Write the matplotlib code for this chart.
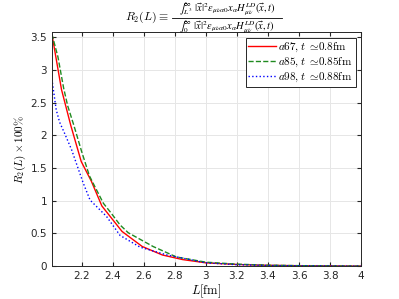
import matplotlib

matplotlib.use("Agg")
import matplotlib.pyplot as plt
from matplotlib.lines import Line2D

plt.rcParams.update({"font.family": "DejaVu Sans", "mathtext.fontset": "cm", "font.size": 8})

L_a67 = [2.008, 2.07, 2.13, 2.197, 2.262, 2.33, 2.39, 2.46, 2.59, 2.72, 2.85, 3.0, 3.2, 3.4, 3.6, 3.8, 4.0]
R_a67 = [3.55, 2.70, 2.15, 1.60, 1.30, 0.92, 0.74, 0.53, 0.30, 0.17, 0.10, 0.05, 0.025, 0.012, 0.006, 0.003, 0.0]

L_a85 = [2.008, 2.047, 2.084, 2.11, 2.15, 2.2, 2.25, 2.286, 2.34, 2.39, 2.447, 2.5, 2.66, 2.81, 3.0, 3.2, 3.4, 3.6, 3.8, 4.0]
R_a85 = [3.55, 3.20, 2.72, 2.45, 2.15, 1.75, 1.38, 1.21, 0.96, 0.81, 0.63, 0.51, 0.30, 0.14, 0.06, 0.03, 0.014, 0.007, 0.003, 0.0]

L_a98 = [2.008, 2.036, 2.058, 2.09, 2.135, 2.21, 2.254, 2.36, 2.447, 2.576, 2.75, 3.0, 3.2, 3.4, 3.6, 3.8, 4.0]
R_a98 = [2.86, 2.39, 2.20, 2.03, 1.78, 1.27, 1.01, 0.76, 0.47, 0.29, 0.17, 0.05, 0.022, 0.01, 0.005, 0.002, 0.0]

fig = plt.figure(figsize=(3.99, 2.99), dpi=100)
ax = fig.add_axes([0.130, 0.110, 0.775, 0.783])
ax.plot(L_a67, R_a67, "-", color="red", lw=1.0, label=r"$a67, t\ \simeq\!0.8\mathrm{fm}$")
ax.plot(L_a85, R_a85, "--", color="#1f8a1f", lw=1.0, label=r"$a85, t\ \simeq\!0.85\mathrm{fm}$")
ax.plot(L_a98, R_a98, ":", color="blue", lw=1.0, label=r"$a98, t\ \simeq\!0.88\mathrm{fm}$")

ax.set_xlim(2.008, 4)
ax.set_ylim(0, 3.58)
ax.set_xticks([2.2, 2.4, 2.6, 2.8, 3, 3.2, 3.4, 3.6, 3.8, 4])
ax.set_xticklabels(["2.2", "2.4", "2.6", "2.8", "3", "3.2", "3.4", "3.6", "3.8", "4"])
ax.set_yticks([0, 0.5, 1, 1.5, 2, 2.5, 3, 3.5])
ax.set_yticklabels(["0", "0.5", "1", "1.5", "2", "2.5", "3", "3.5"])
ax.grid(True, color="#e6e6e6", lw=0.7)
ax.set_axisbelow(True)
ax.tick_params(direction="in", length=3, colors="#262626", labelsize=7.5, top=True, right=True)
for s in ax.spines.values():
    s.set_color("#262626")
    s.set_linewidth(0.7)

ax.set_xlabel(r"$L[\mathrm{fm}]$", fontsize=9, labelpad=1)
ax.set_ylabel(r"$R_2(L)\times 100\%$", fontsize=8, labelpad=2)

# title as a hand-built fraction (mathtext \frac shrinks it too much)
W, H = 399, 299
num = r"$\int{}_{L^3}^{\infty}\ |\vec{x}|^2\epsilon_{\mu\nu\alpha 0}x_\alpha H^{LD}_{\mu\nu}(\vec{x},t)$"
den = r"$\int{}_0^{\infty}\ |\vec{x}|^2\epsilon_{\mu\nu\alpha 0}x_\alpha H^{LD}_{\mu\nu}(\vec{x},t)$"
fig.text(169 / W, 1 - 17.5 / H, r"$R_2(L)\equiv$", ha="right", va="center", fontsize=8.5)
fig.text(227 / W, 1 - 17 / H, num, ha="center", va="bottom", fontsize=7.5, math_fontfamily="stix")
fig.text(227 / W, 1 - 18.5 / H, den, ha="center", va="top", fontsize=7.5, math_fontfamily="stix")
fig.add_artist(Line2D([172 / W, 282 / W], [1 - 17.5 / H, 1 - 17.5 / H], color="black", lw=0.6))

leg = ax.legend(loc="upper right", fontsize=8, frameon=True, fancybox=False,
                borderpad=0.25, labelspacing=0.15, handlelength=2.5, handletextpad=0.2,
                borderaxespad=0.5)
leg.get_frame().set_edgecolor("#262626")
leg.get_frame().set_linewidth(0.7)
leg.get_frame().set_alpha(1)

fig.savefig("out.png", dpi=100)
